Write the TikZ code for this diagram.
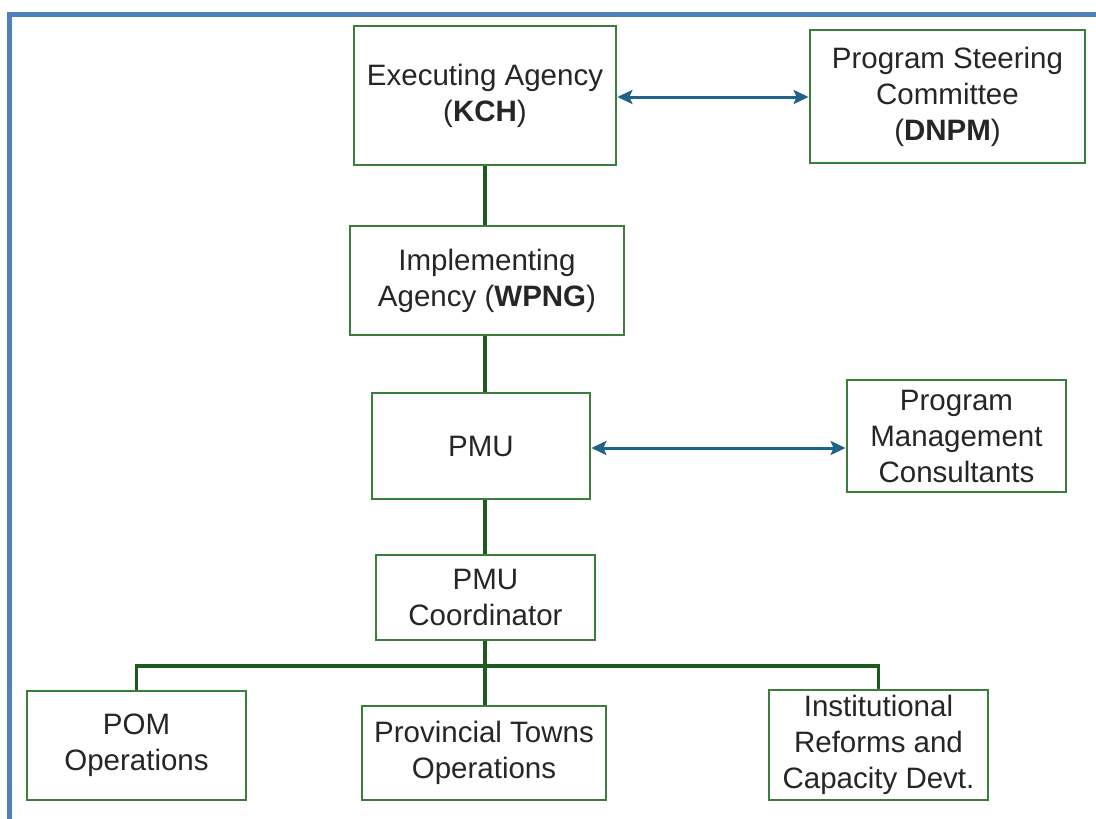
\documentclass[tikz,border=0pt]{standalone}
\usepackage{fontspec}
\setmainfont{Liberation Sans}
\usetikzlibrary{arrows.meta}
\definecolor{boxgreen}{HTML}{3B7D3B}
\definecolor{linegreen}{HTML}{1E5A1E}
\definecolor{arrblue}{HTML}{1F6388}
\definecolor{frameblue}{HTML}{4F81BD}
\begin{document}
\begin{tikzpicture}[x=1pt,y=-1pt,
  box/.style={draw=boxgreen,line width=2.8pt,fill=white,inner sep=0pt,align=center,
    font=\fontsize{29.5}{36}\selectfont,text=black!85},
  conn/.style={draw=linegreen,line width=3.2pt},
  arr/.style={draw=arrblue,line width=3pt,{Stealth[length=15pt,width=14pt,inset=3pt]}-{Stealth[length=15pt,width=14pt,inset=3pt]}}]
\useasboundingbox (0,0) rectangle (1096,819);
\draw[frameblue,line width=5pt] (9.5,830) -- (9.5,14.5) -- (1100,14.5);
% boxes
\node[box,minimum width=262pt,minimum height=139pt] (ea) at (485,95.5) {Executing Agency\\(\textbf{KCH})};
\node[box,minimum width=275pt,minimum height=133pt] (psc) at (947.5,96.5) {Program Steering\\Committee\\(\textbf{DNPM})};
\node[box,minimum width=274pt,minimum height=109pt] (ia) at (487,280.5) {Implementing\\Agency (\textbf{WPNG})};
\node[box,minimum width=218pt,minimum height=106pt] (pmu) at (481,446) {PMU};
\node[box,minimum width=219pt,minimum height=112pt] (pmc) at (956.5,436) {Program\\Management\\Consultants};
\node[box,minimum width=219pt,minimum height=85pt] (coord) at (485.5,597.5) {PMU\\Coordinator};
\node[box,minimum width=219pt,minimum height=109pt] (pom) at (136.5,745.5) {POM\\Operations};
\node[box,minimum width=244pt,minimum height=94pt] (pto) at (484,753) {Provincial Towns\\Operations};
\node[box,minimum width=219pt,minimum height=110pt] (inst) at (878.5,745) {Institutional\\Reforms and\\Capacity Devt.};
% vertical chain
\draw[conn] (ea.south) -- (ea.south |- ia.north);
\draw[conn] (ia.south -| ea.south) -- (ea.south |- pmu.north);
\draw[conn] (pmu.south -| ea.south) -- (ea.south |- coord.north);
\coordinate (bus) at (485,666);
\draw[conn] (coord.south -| bus) -- (bus |- pto.north);
\draw[conn] (pom.north) -- (pom.north |- bus) -- (inst.north |- bus) -- (inst.north);
% arrows
\draw[arr] (ea.east |- 0,97) -- (psc.west |- 0,97);
\draw[arr] (pmu.east |- 0,448) -- (pmc.west |- 0,448);
\end{tikzpicture}
\end{document}
